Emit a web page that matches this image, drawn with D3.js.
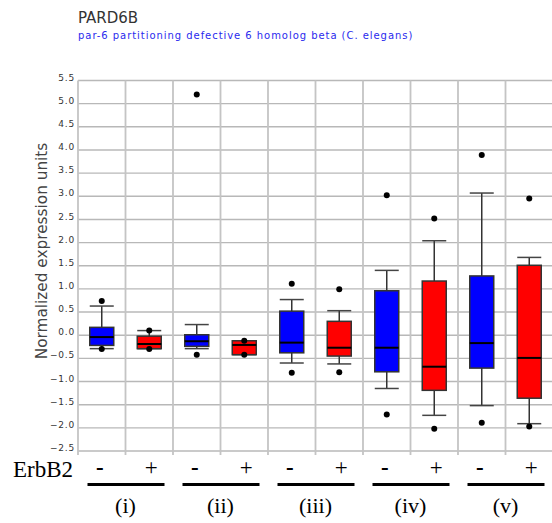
<!DOCTYPE html>
<html>
<head>
<meta charset="utf-8">
<script src="https://cdn.jsdelivr.net/npm/d3@7"></script>
<style>
  body { margin: 0; background: #fff; }
  svg { display: block; }
</style>
</head>
<body>
<div id="chart"></div>
<script>
// groups and the ErbB2 state of each box
const groups = ["(i)", "(ii)", "(iii)", "(iv)", "(v)"];
const conditions = ["-", "+"];
const boxColors = ["#0000ff", "#ff0000"];

// one entry per box: i-, i+, ii-, ii+, ...
const boxQ3        = [0.17, -0.02, 0.01, -0.12, 0.52, 0.30, 0.96, 1.17, 1.28, 1.51];
const boxMedian    = [-0.04, -0.19, -0.13, -0.21, -0.16, -0.27, -0.27, -0.68, -0.17, -0.49];
const boxQ1        = [-0.22, -0.29, -0.24, -0.42, -0.38, -0.45, -0.79, -1.19, -0.71, -1.36];
const whiskerHigh  = [0.63, 0.10, 0.23, -0.12, 0.77, 0.53, 1.40, 2.04, 3.07, 1.68];
const whiskerLow   = [-0.29, -0.29, -0.29, -0.42, -0.60, -0.62, -1.15, -1.73, -1.52, -1.91];
const outlierHigh  = [0.74, 0.10, 5.20, -0.12, 1.11, 0.99, 3.02, 2.52, 3.89, 2.95];
const outlierLow   = [-0.30, -0.30, -0.42, -0.42, -0.81, -0.80, -1.71, -2.02, -1.89, -1.97];

const yTicks = d3.range(-2.5, 5.51, 0.5);

const title = "PARD6B";
const subtitle = "par-6 partitioning defective 6 homolog beta (C. elegans)";
const yLabel = "Normalized expression units";
const rowLabel = "ErbB2";

const width = 552, height = 523;

const svg = d3.select("#chart").append("svg")
    .attr("width", width)
    .attr("height", height);

const keys = [];
groups.forEach(g => conditions.forEach(c => keys.push(g + c)));

const boxes = keys.map((k, i) => ({
    key: k,
    group: groups[Math.floor(i / 2)],
    cond: conditions[i % 2],
    color: boxColors[i % 2],
    q1: boxQ1[i], med: boxMedian[i], q3: boxQ3[i],
    lo: whiskerLow[i], hi: whiskerHigh[i],
    outliers: [outlierLow[i], outlierHigh[i]]
}));

const x = d3.scaleBand().domain(keys).range([78, 553]).paddingInner(0);
const y = d3.scaleLinear().domain([-2.5, 5.5]).range([451, 80.5]);
const boxW = 24;

// titles
svg.append("text")
    .attr("x", 78).attr("y", 22.5)
    .style("font-family", "DejaVu Sans, Verdana, sans-serif")
    .style("font-size", "15px")
    .style("fill", "#333")
    .text(title);

svg.append("text")
    .attr("x", 78).attr("y", 38.5)
    .style("font-family", "DejaVu Sans, Verdana, sans-serif")
    .style("font-size", "10px")
    .style("letter-spacing", "0.95px")
    .style("fill", "#2a2aee")
    .text(subtitle);

// grid
const grid = svg.append("g").attr("class", "grid");
grid.selectAll(".hline")
    .data(yTicks)
    .join("line")
    .attr("x1", 78).attr("x2", width)
    .attr("y1", d => y(d)).attr("y2", d => y(d))
    .style("stroke", "#b8b8b8")
    .style("stroke-width", 1.4);

grid.selectAll(".vline")
    .data(d3.range(keys.length + 1))
    .join("line")
    .attr("x1", i => 78 + i * x.bandwidth())
    .attr("x2", i => 78 + i * x.bandwidth())
    .attr("y1", y(5.5)).attr("y2", y(-2.5) + 4)
    .style("stroke", "#c4c4c4")
    .style("stroke-width", 1.8);

// y axis
const yAxis = svg.append("g")
    .attr("transform", "translate(78,0)")
    .call(d3.axisLeft(y).tickValues(yTicks).tickFormat(d3.format(".1f")).tickSize(0).tickPadding(3));
yAxis.select(".domain").remove();
yAxis.selectAll("text")
    .style("font-family", "DejaVu Sans, Verdana, sans-serif")
    .style("font-size", "9px")
    .style("letter-spacing", "0.8px")
    .style("fill", "#333")
    .attr("dy", "-0.05em");

svg.append("text")
    .attr("transform", "translate(47,251) rotate(-90)")
    .attr("text-anchor", "middle")
    .style("font-family", "DejaVu Sans, Verdana, sans-serif")
    .style("font-size", "15.3px")
    .style("fill", "#444")
    .text(yLabel);

// boxes
const bx = svg.append("g").attr("class", "boxes")
    .selectAll("g")
    .data(boxes)
    .join("g")
    .attr("transform", d => `translate(${x(d.key) + x.bandwidth() / 2},0)`);

bx.append("line")
    .attr("y1", d => y(d.lo)).attr("y2", d => y(d.hi))
    .style("stroke", "#333").style("stroke-width", 1.5);

bx.selectAll(".cap")
    .data(d => [d.lo, d.hi])
    .join("line")
    .attr("x1", -boxW / 2).attr("x2", boxW / 2)
    .attr("y1", d => y(d)).attr("y2", d => y(d))
    .style("stroke", "#444").style("stroke-width", 1.5);

bx.append("rect")
    .attr("x", -boxW / 2)
    .attr("width", boxW)
    .attr("y", d => y(d.q3))
    .attr("height", d => y(d.q1) - y(d.q3))
    .style("fill", d => d.color)
    .style("stroke", "#333")
    .style("stroke-width", 1.5);

bx.append("line")
    .attr("x1", -boxW / 2).attr("x2", boxW / 2)
    .attr("y1", d => y(d.med)).attr("y2", d => y(d.med))
    .style("stroke", "#000").style("stroke-width", 2);

bx.selectAll(".dot")
    .data(d => d.outliers)
    .join("circle")
    .attr("cy", d => y(d))
    .attr("r", 3)
    .style("fill", "#000");

// ErbB2 annotation below the chart
const serif = "Liberation Serif, Times New Roman, serif";
svg.append("text")
    .attr("x", 13).attr("y", 477)
    .style("font-family", serif)
    .style("font-size", "23px")
    .style("fill", "#000")
    .text(rowLabel);

svg.append("g").selectAll("text")
    .data(boxes)
    .join("text")
    .attr("x", d => x(d.key) + x.bandwidth() / 2 + (d.cond === "-" ? -2 : 2))
    .attr("y", 475)
    .attr("text-anchor", "middle")
    .style("font-family", serif)
    .style("font-size", "23px")
    .style("font-weight", d => d.cond === "-" ? "bold" : "normal")
    .text(d => d.cond);

const gx = d3.scaleBand().domain(groups).range([78, 553]);
svg.append("g").selectAll("line")
    .data(groups)
    .join("line")
    .attr("x1", g => gx(g) + gx.bandwidth() / 2 - 38)
    .attr("x2", g => gx(g) + gx.bandwidth() / 2 + 39)
    .attr("y1", 484.5).attr("y2", 484.5)
    .style("stroke", "#000").style("stroke-width", 3);

svg.append("g").selectAll("text")
    .data(groups)
    .join("text")
    .attr("x", g => gx(g) + gx.bandwidth() / 2)
    .attr("y", 513)
    .attr("text-anchor", "middle")
    .style("font-family", serif)
    .style("font-size", "22px")
    .text(g => g);
</script>
</body>
</html>
